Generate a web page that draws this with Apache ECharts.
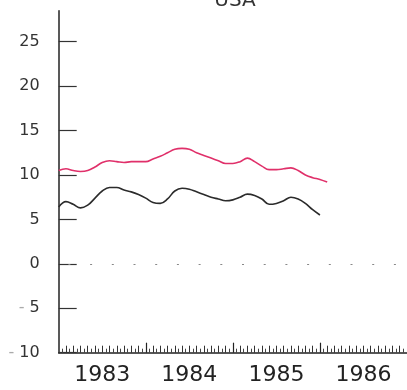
<!DOCTYPE html>
<html>
<head>
<meta charset="utf-8">
<style>
  html, body { margin: 0; padding: 0; background: #ffffff; }
  #chart { width: 407px; height: 390px; }
</style>
<script src="https://cdn.jsdelivr.net/npm/echarts@6/dist/echarts.min.js"></script>
</head>
<body>
<div id="chart"></div>
<script>
// Monthly rates, January 1983 onward
const startYear = 1983;
const redSeries = [10.5, 10.7, 10.5, 10.4, 10.5, 10.9, 11.4, 11.6, 11.5, 11.4, 11.5, 11.5,
                   11.5, 11.8, 12.1, 12.5, 12.9, 13.0, 12.9, 12.5, 12.2, 11.9, 11.6, 11.3,
                   11.3, 11.5, 11.9, 11.5, 11.0, 10.6, 10.6, 10.7, 10.8, 10.5, 10.0, 9.7,
                   9.5, 9.2];
const blackSeries = [6.4, 7.0, 6.7, 6.3, 6.6, 7.4, 8.2, 8.6, 8.6, 8.3, 8.1, 7.8,
                     7.4, 6.9, 6.8, 7.3, 8.2, 8.5, 8.4, 8.1, 7.8, 7.5, 7.3, 7.1,
                     7.2, 7.5, 7.85, 7.7, 7.3, 6.7, 6.8, 7.1, 7.5, 7.3, 6.8, 6.1,
                     5.5];
const yearLabels = [1983, 1984, 1985, 1986];
const yTicks = [-10, -5, 0, 5, 10, 15, 20, 25];
const titleText = 'USA';

const toPoints = vals => vals.map((v, i) => [startYear + i / 12, v]);

const yearTicks = [1984, 1985, 1986];
const monthTicks = [];
const halfMonthTicks = [];
for (let m = 1; m < 48; m++) {
  if (m % 12 !== 0) monthTicks.push(startYear + m / 12);
}
for (let m = 0; m < 48; m++) {
  halfMonthTicks.push(startYear + (m + 0.5) / 12);
}

const xMin = 1983, xMax = 1987;
const baseX = {
  type: 'value', min: xMin, max: xMax, position: 'bottom',
  splitLine: { show: false }, axisLine: { show: false, onZero: false },
  axisLabel: { show: false }
};

const chart = echarts.init(document.getElementById('chart'), null, { renderer: 'canvas' });
chart.setOption({
  animation: false,
  backgroundColor: '#ffffff',
  graphic: [{
    type: 'text', x: 235, y: 11, silent: true,
    style: {
      text: titleText, fill: '#333', align: 'center', verticalAlign: 'bottom',
      font: '20px "DejaVu Sans"'
    }
  }],
  grid: { left: 58.7, right: -3.7, top: 10.7, bottom: 37.3, containLabel: false },
  xAxis: [
    Object.assign({}, baseX, {
      axisLine: { show: true, onZero: false, lineStyle: { color: '#222', width: 1.5 } },
      axisTick: { show: true, inside: true, length: 10, customValues: yearTicks,
                  lineStyle: { color: '#222', width: 1.2 } },
      axisLabel: {
        show: true, customValues: yearLabels.map(y => y + 0.5), margin: 12,
        formatter: v => String(Math.floor(v)),
        fontFamily: 'DejaVu Sans', fontSize: 22, color: '#222'
      }
    }),
    Object.assign({}, baseX, {
      axisTick: { show: true, inside: true, length: 7, customValues: monthTicks,
                  lineStyle: { color: '#333', width: 1 } }
    }),
    Object.assign({}, baseX, {
      axisTick: { show: true, inside: true, length: 4, customValues: halfMonthTicks,
                  lineStyle: { color: '#444', width: 1 } }
    })
  ],
  yAxis: {
    type: 'value', min: -10, max: 28.49,
    splitLine: { show: false },
    axisLine: { show: true, onZero: false, lineStyle: { color: '#222', width: 1.5 } },
    axisTick: { show: true, inside: true, length: 18, customValues: yTicks,
                lineStyle: { color: '#333', width: 1.2 } },
    axisLabel: {
      customValues: yTicks, margin: 19,
      fontFamily: 'DejaVu Sans', fontSize: 16, color: '#333',
      formatter: v => v < 0 ? '{m|-}' + String(-v) : String(v),
      rich: { m: { color: '#aaa', fontSize: 16, fontFamily: 'DejaVu Sans', padding: [0, 5, 0, 0] } }
    }
  },
  series: [
    {
      type: 'line', name: 'red', xAxisIndex: 0, data: toPoints(redSeries),
      smooth: 0.4, showSymbol: false,
      lineStyle: { color: '#e0306a', width: 1.6 },
      markLine: {
        silent: true, symbol: 'none', label: { show: false },
        lineStyle: { color: '#888', width: 1.2, type: [2, 19.7], dashOffset: 12 },
        data: [{ yAxis: 0 }]
      }
    },
    {
      type: 'line', name: 'black', xAxisIndex: 0, data: toPoints(blackSeries),
      smooth: 0.4, showSymbol: false,
      lineStyle: { color: '#2b2b2b', width: 1.6 }
    }
  ]
});
</script>
</body>
</html>
